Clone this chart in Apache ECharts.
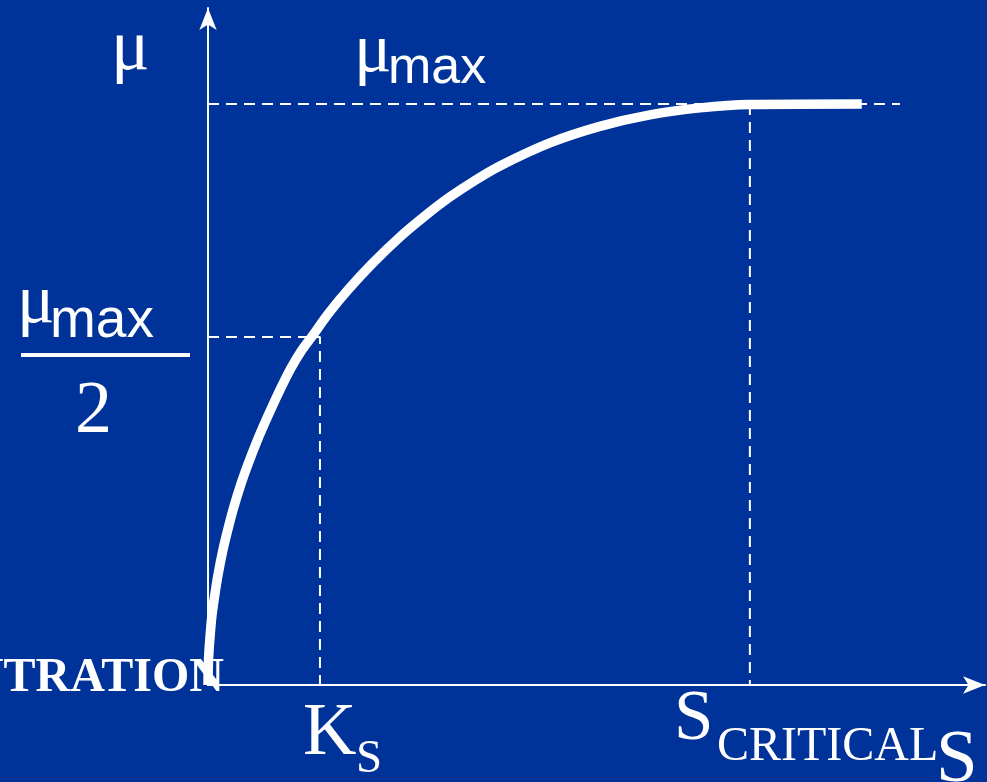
<!DOCTYPE html>
<html>
<head>
<meta charset="utf-8">
<script src="https://cdn.jsdelivr.net/npm/echarts@6/dist/echarts.min.js"></script>
<style>
  html, body { margin: 0; padding: 0; background: #003399; }
  #chart { width: 987px; height: 782px; }
</style>
</head>
<body>
<div id="chart"></div>
<script>
// growth curve (x in units of Ks, y in units of mu max)
var curveX = [0, 0.0045, 0.018, 0.0357, 0.058, 0.0893, 0.1295, 0.1741, 0.2232, 0.2857, 0.3616, 0.442, 0.5313,
              0.6295, 0.7321, 0.8393, 0.9286, 1.0804, 1.25, 1.4732, 1.7143, 1.9375, 2.1607, 2.3839, 2.6071,
              3.0536, 3.5, 3.9464, 4.3929, 4.8393, 5.8393];
var curveY = [0, 0.043, 0.0826, 0.1205, 0.1515, 0.1893, 0.2289, 0.2651, 0.3012, 0.3408, 0.3821, 0.4217, 0.4613,
              0.5026, 0.5422, 0.5766, 0.5998, 0.6403, 0.6799, 0.7263, 0.7711, 0.8072, 0.8399, 0.8683, 0.8933,
              0.9329, 0.9613, 0.9811, 0.9931, 0.9991, 1.0];

var ks = 1.0;          // Ks on the S axis
var sCrit = 4.84;      // S critical
var muMax = 1.0;
var muHalf = 0.599;    // where the mu max / 2 guide sits
var muMaxGuideEnd = 6.18;

var xMax = 6.94, yMax = 1.165;

var white = '#ffffff';
var dash = [11, 7];

function pairs(xs, ys) { return xs.map(function(x, i) { return [x, ys[i]]; }); }

var chart = echarts.init(document.getElementById('chart'));

function guide(data) {
  return { type: 'line', data: data, showSymbol: false, silent: true,
           lineStyle: { color: white, width: 2, type: dash }, z: 2 };
}

chart.setOption({
  animation: false,
  backgroundColor: '#003399',
  grid: { left: 208, right: 2, top: 8, bottom: 97 },
  xAxis: {
    type: 'value', min: 0, max: xMax,
    axisLine: { lineStyle: { color: white, width: 2 }, symbol: ['none', 'arrow'], symbolSize: [13, 22] },
    axisTick: { show: false }, axisLabel: { show: false }, splitLine: { show: false }
  },
  yAxis: {
    type: 'value', min: 0, max: yMax,
    axisLine: { lineStyle: { color: white, width: 2 }, symbol: ['none', 'arrow'], symbolSize: [13, 22] },
    axisTick: { show: false }, axisLabel: { show: false }, splitLine: { show: false }
  },
  series: [
    guide([[0, muMax], [muMaxGuideEnd, muMax]]),
    guide([[0, muHalf], [ks, muHalf], [ks, 0]]),
    guide([[sCrit, muMax], [sCrit, 0]]),
    {
      type: 'line', data: pairs(curveX, curveY), showSymbol: false, smooth: 0.3,
      lineStyle: { color: white, width: 9.5, cap: 'butt', join: 'round' }, z: 5
    }
  ]
});

// labels placed from the axis positions
var pKs = chart.convertToPixel('grid', [ks, 0]);
var pCrit = chart.convertToPixel('grid', [sCrit, 0]);
var pMax = chart.convertToPixel('grid', [0, muMax]);
var pHalf = chart.convertToPixel('grid', [0, muHalf]);

var serif = '"Liberation Serif", "Times New Roman", serif';
var sans = '"Liberation Sans", Arial, sans-serif';

// y is the text baseline; zrender draws with middle, so shift up a bit
function txt(s, x, base, size, family, weight, align) {
  return { type: 'text', x: x, y: base - 0.28 * size, z: 10,
           style: { text: s, fill: white, fontSize: size, fontFamily: family,
                    fontWeight: weight || 'normal', align: align || 'left', verticalAlign: 'middle' } };
}

chart.setOption({
  graphic: [
    txt('μ', 111, 70, 72, serif),
    txt('μ', 354, pMax[1] - 32, 70, serif),
    txt('max', 388, pMax[1] - 21, 52, sans),
    txt('μ', 17, pHalf[1] - 14, 70, serif),
    txt('max', 50, pHalf[1], 55, sans),
    { type: 'line', z: 10, shape: { x1: 21, y1: pHalf[1] + 18, x2: 190, y2: pHalf[1] + 18 },
      style: { stroke: white, lineWidth: 4 } },
    txt('2', 75, pHalf[1] + 96, 74, serif),
    txt('CONCENTRATION', 224, pKs[1] + 7, 48, serif, 'bold', 'right'),
    txt('K', pKs[0] - 17, pKs[1] + 70, 74, serif),
    txt('S', pKs[0] + 36, pKs[1] + 88, 47, serif),
    txt('S', pCrit[0] - 76, pCrit[1] + 55, 71, serif),
    txt('CRITICAL', pCrit[0] - 33, pCrit[1] + 76, 48, serif),
    txt('S', 936, 782, 75, serif)
  ]
});
</script>
</body>
</html>
